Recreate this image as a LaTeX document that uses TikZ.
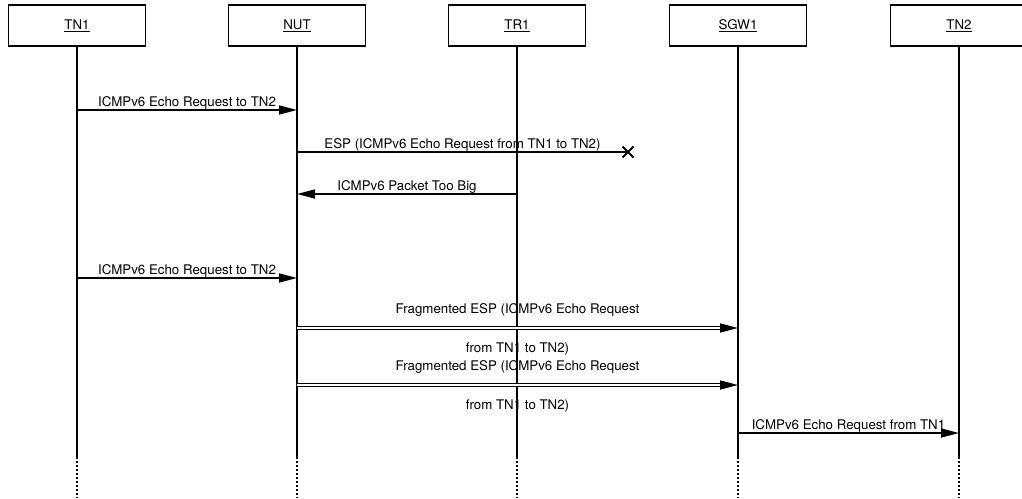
\documentclass[tikz,border=0pt]{standalone}
\usepackage{fontspec}
\setmainfont{TeX Gyre Heros}
\usetikzlibrary{arrows.meta}

\tikzset{
  actor/.style={draw, line width=1.7pt, minimum width=137pt, minimum height=41pt, inner sep=0pt},
  life/.style={line width=1.7pt},
  lifedots/.style={line width=1.7pt, dash pattern=on 2pt off 2pt},
  msg/.style={line width=1.7pt, -{Triangle[length=18pt,width=9pt]}},
  fragmsg/.style={line width=1.4pt, double, double distance=2pt, -{Triangle[length=18pt,width=9pt]}},
  txt/.style={anchor=base, inner sep=0pt, yshift=4pt},
  txtup/.style={anchor=base, inner sep=0pt, yshift=15pt},
  txtdown/.style={anchor=base, inner sep=0pt, yshift=-24pt}
}

\begin{document}
\begin{tikzpicture}[x=1pt, y=-1pt, font=\fontsize{13.3}{15}\selectfont]
    \useasboundingbox (0,0) rectangle (1022,498);
    % Actors
    \node[actor] (tn1) at (77,25.5) {\underline{TN1}};
    \node[actor] (nut) at (297,25.5) {\underline{NUT}};
    \node[actor] (tr1) at (517,25.5) {\underline{TR1}};
    \node[actor] (sgw1) at (738,25.5) {\underline{SGW1}};
    \node[actor] (tn2) at (959,25.5) {\underline{TN2}};
    % Lifelines
    \foreach \p in {tn1,nut,tr1,sgw1,tn2} {
      \coordinate (\p-end) at (\p |- 0,457);
      \coordinate (\p-foot) at (\p |- 0,498);
      \draw[life] (\p.south) -- (\p-end);
      \draw[lifedots] (\p-end) -- (\p-foot);
    }
    % Message points
    \coordinate (tn1-a) at (tn1 |- 0,110);
    \coordinate (nut-a) at (nut |- 0,110);
    \coordinate (nut-b) at (nut |- 0,152);
    \coordinate (lost) at (628,152);
    \coordinate (tr1-c) at (tr1 |- 0,194);
    \coordinate (nut-c) at (nut |- 0,194);
    \coordinate (tn1-d) at (tn1 |- 0,278);
    \coordinate (nut-d) at (nut |- 0,278);
    \coordinate (nut-e) at (nut |- 0,328);
    \coordinate (sgw1-e) at (sgw1 |- 0,328);
    \coordinate (nut-f) at (nut |- 0,385);
    \coordinate (sgw1-f) at (sgw1 |- 0,385);
    \coordinate (sgw1-g) at (sgw1 |- 0,433);
    \coordinate (tn2-g) at (tn2 |- 0,433);
    % Messages
    \draw[msg] (tn1-a) -- node[txt] {ICMPv6 Echo Request to TN2} (nut-a);
    \draw[life] (nut-b) -- node[txt] {ESP (ICMPv6 Echo Request from TN1 to TN2)} (lost);
    \draw[line width=2pt] (lost) +(-5.5,-5.5) -- +(5.5,5.5) (lost) +(-5.5,5.5) -- +(5.5,-5.5);
    \draw[msg] (tr1-c) -- node[txt] {ICMPv6 Packet Too Big} (nut-c);
    \draw[msg] (tn1-d) -- node[txt] {ICMPv6 Echo Request to TN2} (nut-d);
    \draw[fragmsg] (nut-e) -- node[txtup] {Fragmented ESP (ICMPv6 Echo Request}
      node[txtdown] {from TN1 to TN2)} (sgw1-e);
    \draw[fragmsg] (nut-f) -- node[txtup] {Fragmented ESP (ICMPv6 Echo Request}
      node[txtdown] {from TN1 to TN2)} (sgw1-f);
    \draw[msg] (sgw1-g) -- node[txt] {ICMPv6 Echo Request from TN1} (tn2-g);
\end{tikzpicture}
\end{document}
